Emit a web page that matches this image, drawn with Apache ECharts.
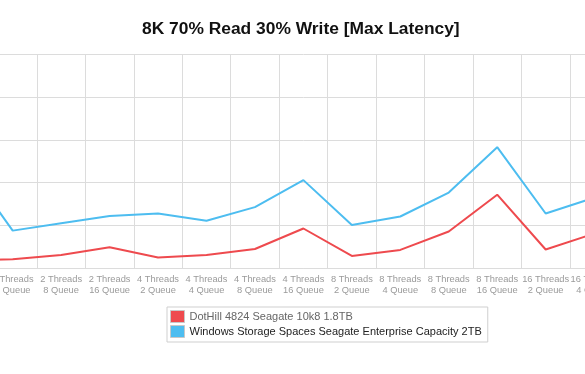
<!DOCTYPE html>
<html><head><meta charset="utf-8">
<script src="https://cdn.jsdelivr.net/npm/echarts@6/dist/echarts.min.js"></script>
<style>html,body{margin:0;padding:0;background:#fff;overflow:hidden;width:585px;height:374px}
#c{position:absolute;left:-60px;top:0;width:729px;height:374px}</style>
</head><body><div id="c"></div>
<script>
var categories = [
  "2 Threads\n2 Queue","2 Threads\n4 Queue","2 Threads\n8 Queue","2 Threads\n16 Queue",
  "4 Threads\n2 Queue","4 Threads\n4 Queue","4 Threads\n8 Queue","4 Threads\n16 Queue",
  "8 Threads\n2 Queue","8 Threads\n4 Queue","8 Threads\n8 Queue","8 Threads\n16 Queue",
  "16 Threads\n2 Queue","16 Threads\n4 Queue","16 Threads\n8 Queue"
];
var dotHill = [18, 21, 31, 49, 25, 31, 45, 93, 29, 43, 86, 172, 44, 81, 60];
var storageSpaces = [247, 88, 105, 122, 128, 111, 143, 206, 101, 121, 177, 283, 128, 165, 150];
var seriesNames = ["DotHill 4824 Seagate 10k8 1.8TB", "Windows Storage Spaces Seagate Enterprise Capacity 2TB"];
var yTicks = [0, 100, 200, 300, 400, 500];

var chart = echarts.init(document.getElementById('c'), null, {renderer: 'canvas'});
var font = '"Liberation Sans", Arial, Helvetica, sans-serif';
var offX = 60;
chart.setOption({
  animation: false,
  backgroundColor: '#fff',
  title: {
    text: '8K 70% Read 30% Write [Max Latency]',
    left: 142 + offX, top: 21, padding: 0,
    textStyle: {fontFamily: font, fontSize: 17.4, fontWeight: 'bold', color: '#111'}
  },
  legend: {
    orient: 'vertical', left: 167 + offX, top: 307,
    padding: [3, 6, 4, 3], itemGap: 2,
    itemWidth: 14, itemHeight: 12,
    borderColor: '#cfcfcf', borderWidth: 1,
    icon: 'rect',
    itemStyle: {borderColor: '#c8c8c8', borderWidth: 1},
    textStyle: {fontFamily: font, fontSize: 11, color: '#222'},
    data: [
      {name: seriesNames[0], textStyle: {color: '#666'}},
      {name: seriesNames[1], textStyle: {color: '#222'}}
    ]
  },
  grid: {left: 0, right: 0, top: 54.3, bottom: 105.7, containLabel: false},
  xAxis: {
    type: 'category', data: categories, boundaryGap: true,
    axisLine: {show: true, lineStyle: {color: '#dcdcdc'}},
    axisTick: {show: false},
    splitLine: {show: true, interval: 0, lineStyle: {color: '#dcdcdc', width: 1}},
    axisLabel: {interval: 0, fontFamily: font, fontSize: 9.3, color: '#9a9a9a', lineHeight: 11, margin: 6}
  },
  yAxis: {
    type: 'value', min: yTicks[0], max: yTicks[yTicks.length - 1], interval: 100,
    axisLabel: {show: false}, axisLine: {show: false}, axisTick: {show: false},
    splitLine: {lineStyle: {color: '#dcdcdc', width: 1}}
  },
  series: [
    {name: seriesNames[0], type: 'line', data: dotHill, symbol: 'none',
     lineStyle: {color: '#ee4a4e', width: 2}, itemStyle: {color: '#ee4a4e'}},
    {name: seriesNames[1], type: 'line', data: storageSpaces, symbol: 'none',
     lineStyle: {color: '#4dbdf0', width: 2}, itemStyle: {color: '#4dbdf0'}}
  ]
});
</script></body></html>
